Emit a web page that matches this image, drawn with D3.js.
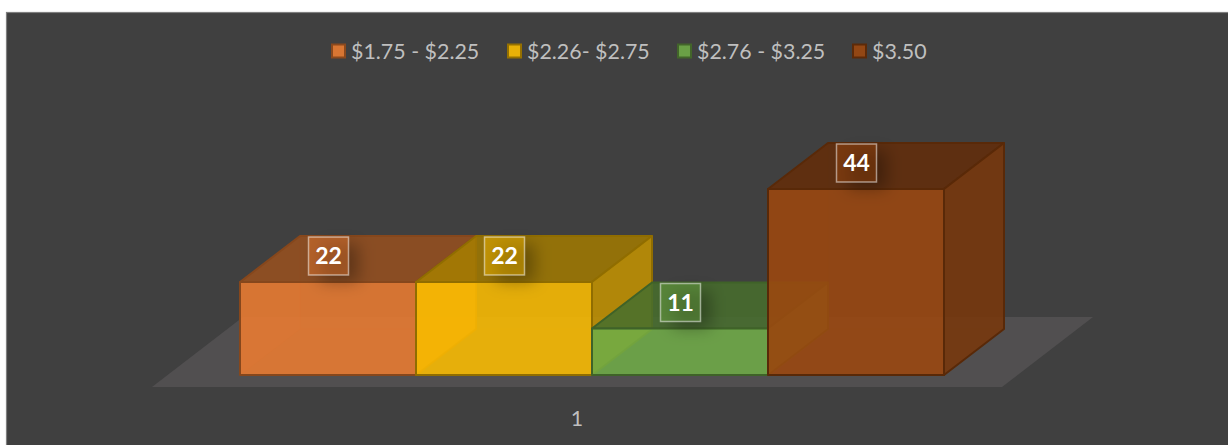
<!DOCTYPE html>
<html><head><meta charset="utf-8">
<style>html,body{margin:0;padding:0;background:#fff}svg{display:block}text{font-family:Lato,"Open Sans",sans-serif}</style>
<script src="https://cdn.jsdelivr.net/npm/d3@7/dist/d3.min.js"></script></head>
<body><script>
const series = ["$1.75 - $2.25", "$2.26- $2.75", "$2.76 - $3.25", "$3.50"];
const values = [22, 22, 11, 44];
const colors = ["#ED7D31", "#FFC000", "#70AD47", "#9E480E"];
const categories = ["1"];
const legendX = [331, 507, 677, 852];

const W = 1228, H = 445;
const svg = d3.select("body").append("svg").attr("width", W).attr("height", H);
const defs = svg.append("defs");
defs.append("filter").attr("id", "blur").attr("x", "-60%").attr("y", "-60%").attr("width", "220%").attr("height", "220%")
  .append("feGaussianBlur").attr("stdDeviation", 8);

// card
svg.append("rect").attr("x", 6.5).attr("y", 12.5).attr("width", W).attr("height", H)
  .attr("fill", "#404040").attr("stroke", "#7f7f7f").attr("stroke-width", 1.2);

const baseY = 375, dx = 60, dy = -46;
const x = d3.scaleBand().domain(series).range([240, 944]);
const y = d3.scaleLinear().domain([0, 44]).range([baseY, 189]);
const xCat = d3.scaleBand().domain(categories).range([152, 1002]);
const path = pts => d3.line()(pts) + "Z";

// floor
svg.append("path").attr("fill", "#514F50")
  .attr("d", path([[152, 387], [1002, 387], [1093, 317], [243, 317]]));

// boxes
const rows = series.map((s, i) => ({s, v: values[i], c: colors[i]}));
const boxes = svg.append("g").selectAll("g").data(rows).join("g");
const shade = (c, k) => d3.rgb(c).darker(k).formatHex();
boxes.each(function(d) {
  const g = d3.select(this);
  const x0 = x(d.s), x1 = x0 + x.bandwidth(), yt = y(d.v), yb = y(0);
  const stroke = shade(d.c, 1.6);
  // back faces, seen through the front
  const back = [
    {p: [[x0 + dx, yb + dy], [x1 + dx, yb + dy], [x1 + dx, yt + dy], [x0 + dx, yt + dy]], o: 0.06},
    {p: [[x0, yb], [x0 + dx, yb + dy], [x0 + dx, yt + dy], [x0, yt]], o: 0.14},
    {p: [[x0, yb], [x1, yb], [x1 + dx, yb + dy], [x0 + dx, yb + dy]], o: 0.05}
  ];
  g.selectAll(".b").data(back).join("path").attr("d", e => path(e.p))
    .attr("fill", d.c).attr("fill-opacity", e => e.o).attr("stroke", stroke).attr("stroke-opacity", 0.1);
  // top, right, front
  const faces = [
    {p: [[x0, yt], [x1, yt], [x1 + dx, yt + dy], [x0 + dx, yt + dy]], f: shade(d.c, 1.3)},
    {p: [[x1, yt], [x1 + dx, yt + dy], [x1 + dx, yb + dy], [x1, yb]], f: shade(d.c, 0.75)},
    {p: [[x0, yt], [x1, yt], [x1, yb], [x0, yb]], f: d.c}
  ];
  g.selectAll(".f").data(faces).join("path").attr("d", e => path(e.p))
    .attr("fill", e => e.f).attr("fill-opacity", 0.85)
    .attr("stroke", stroke).attr("stroke-width", 2).attr("stroke-linejoin", "round");
});

// data labels
const labels = svg.append("g").selectAll("g").data(rows).join("g")
  .attr("transform", d => `translate(${x(d.s) + x.bandwidth() / 2 + 0.5},${y(d.v) - 26})`);
labels.append("rect").attr("x", -8).attr("y", -12).attr("width", 38).attr("height", 38)
  .attr("fill", "#000").attr("fill-opacity", 0.3).attr("filter", "url(#blur)");
labels.append("rect").attr("x", -20).attr("y", -19).attr("width", 40).attr("height", 38)
  .attr("fill", d => d.c).attr("fill-opacity", 0.42)
  .attr("stroke", "#fff").attr("stroke-opacity", 0.5).attr("stroke-width", 1.5);
labels.append("text").attr("text-anchor", "middle").attr("y", 8).attr("fill", "#fff")
  .attr("font-weight", 700).attr("font-size", 23).text(d => d.v);

// legend
const leg = svg.append("g").selectAll("g").data(rows).join("g")
  .attr("transform", (d, i) => `translate(${legendX[i]},51)`);
leg.append("rect").attr("x", 1).attr("y", -6.5).attr("width", 13).attr("height", 13)
  .attr("fill", d => d.c).attr("fill-opacity", 0.88)
  .attr("stroke", d => shade(d.c, 1.5)).attr("stroke-width", 2);
leg.append("text").attr("x", 20).attr("y", 8).attr("fill", "#BFBFBF")
  .attr("font-size", 21.4).text(d => d.s);

// category axis
const ax = svg.append("g").attr("transform", "translate(0,408)").call(d3.axisBottom(xCat).tickSize(0).tickPadding(0));
ax.select(".domain").remove();
ax.selectAll("text").attr("fill", "#BFBFBF").attr("font-size", 21.4).attr("dy", "0.85em")
  .style("font-family", "Lato");
</script></body></html>
